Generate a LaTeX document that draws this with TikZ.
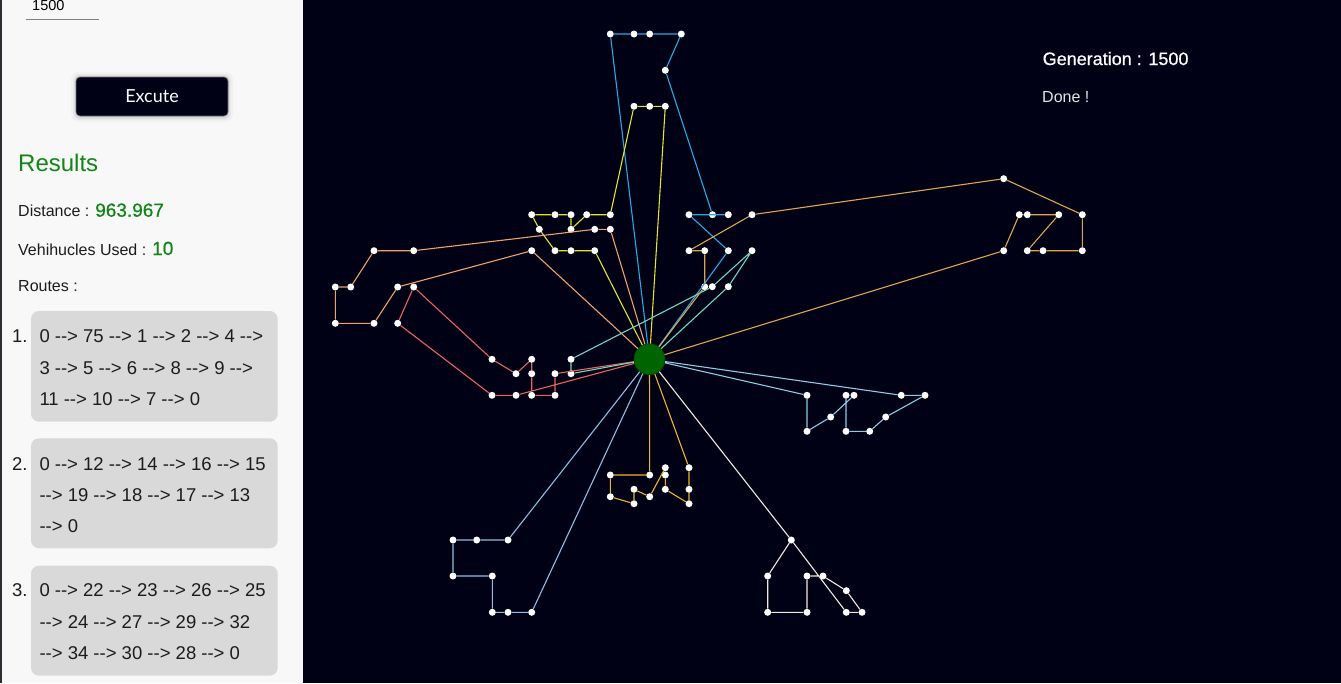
\documentclass[tikz,border=0pt]{standalone}
\usepackage{fontspec}
\setmainfont{Liberation Sans}[Ligatures=TeXOff]
\newfontfamily\latofont{Lato}
\newfontfamily\medfont{Liberation Sans}[Ligatures=TeXOff, FakeBold=0.6]
\definecolor{canvasbg}{RGB}{1,1,22}
\definecolor{panelbg}{RGB}{248,248,248}
\definecolor{edgegrey}{RGB}{45,45,52}
\definecolor{boxgrey}{RGB}{217,217,217}
\definecolor{resgreen}{RGB}{18,132,24}
\definecolor{txtdark}{RGB}{28,28,28}
\definecolor{depotgreen}{RGB}{0,100,0}
\definecolor{colA}{RGB}{40,170,228}
\definecolor{colB}{RGB}{228,228,40}
\definecolor{colC}{RGB}{238,160,112}
\definecolor{colD}{RGB}{236,98,98}
\definecolor{colE}{RGB}{110,218,188}
\definecolor{colF}{RGB}{222,164,82}
\definecolor{colG}{RGB}{140,204,230}
\definecolor{colH}{RGB}{140,192,226}
\definecolor{colI}{RGB}{240,180,40}
\definecolor{colJ}{RGB}{245,232,222}
\newcommand{\routefont}{\fontsize{18.5}{22}\selectfont}
\newcommand{\labelfont}{\fontsize{16}{19}\selectfont}
\newcommand{\valuefont}{\medfont\fontsize{19}{22}\selectfont}

\begin{document}
\begin{tikzpicture}[x=1pt, y=-1pt,
    cust/.style={circle, fill=white, inner sep=0pt, minimum size=7pt},
    depot/.style={circle, fill=depotgreen, draw={rgb,255:red,0;green,70;blue,0}, line width=0.6pt, inner sep=0pt, minimum size=31pt},
    route/.style={line width=1.1pt, line join=round},
    txt/.style={anchor=base west, inner sep=0pt, text=txtdark},
    routebox/.style={fill=boxgrey, rounded corners=8pt}]
  \useasboundingbox (0,0) rectangle (1341,683);
  \fill[panelbg] (0,0) rectangle (303,683);
  \fill[edgegrey] (0,0) rectangle (2,683);
  \fill[canvasbg] (303,0) rectangle (1341,683);

  \node[txt, text=black, font=\fontsize{14.5}{16}\selectfont] (inp) at (32,10) {1500};
  \draw[line width=1pt, gray] (26,19.5) -- (99,19.5);

  \fill[black!5, rounded corners=7pt] (71,72) rectangle (233,122);
  \fill[black!9, rounded corners=6pt] (73,74) rectangle (231,120);
  \fill[black!15, rounded corners=5pt] (74.5,75.5) rectangle (229.5,118.5);
  \node[draw={rgb,255:red,110;green,110;blue,120}, fill=canvasbg, rounded corners=4pt, minimum width=152pt, minimum height=39pt, line width=0.6pt,
        text=white, font=\latofont\fontsize{18}{20}\selectfont] (btn) at (152,96.5) {Excute};

  \node[txt, text=resgreen, font=\fontsize{24}{28}\selectfont] (res) at (18,171.7) {Results};
  \node[txt, font=\labelfont] (dist) at (18,216.7) {Distance : {\color{resgreen}\valuefont 963.967}};
  \node[txt, font=\labelfont] (veh) at (18,255) {Vehihucles Used : {\color{resgreen}\valuefont 10}};
  \node[txt, font=\labelfont] (rts) at (18,291.7) {Routes :};

  \fill[routebox] (31,311) rectangle (277.7,421.7);
  \fill[routebox] (31,438.3) rectangle (277.7,548.3);
  \fill[routebox] (31,565.7) rectangle (277.7,675.7);
  \node[txt, font=\routefont] (n1) at (12,342.7) {1.};
  \node[txt, font=\routefont] (r11) at (39.3,342.7) {0 --> 75 --> 1 --> 2 --> 4 -->};
  \node[txt, font=\routefont] (r12) at (39.3,374) {3 --> 5 --> 6 --> 8 --> 9 -->};
  \node[txt, font=\routefont] (r13) at (39.3,405.3) {11 --> 10 --> 7 --> 0};
  \node[txt, font=\routefont] (n2) at (12,470) {2.};
  \node[txt, font=\routefont] (r21) at (39.3,470) {0 --> 12 --> 14 --> 16 --> 15};
  \node[txt, font=\routefont] (r22) at (39.3,501.3) {--> 19 --> 18 --> 17 --> 13};
  \node[txt, font=\routefont] (r23) at (39.3,532.7) {--> 0};
  \node[txt, font=\routefont] (n3) at (12,596.7) {3.};
  \node[txt, font=\routefont] (r31) at (39.3,596.7) {0 --> 22 --> 23 --> 26 --> 25};
  \node[txt, font=\routefont] (r32) at (39.3,628) {--> 24 --> 27 --> 29 --> 32};
  \node[txt, font=\routefont] (r33) at (39.3,659.3) {--> 34 --> 30 --> 28 --> 0};

  \node[txt, text=white, font=\medfont\fontsize{18}{20}\selectfont] (gen) at (1042.5,65) {Generation : 1500};
  \node[txt, text={rgb,255:red,228;green,228;blue,228}, font=\fontsize{16}{19}\selectfont] (done) at (1042,102.7) {Done !};

  \node[depot] (dep) at (649.5,359.3) {};

  \node[cust] (a1) at (610.3,34) {};
  \node[cust] (a2) at (634,34) {};
  \node[cust] (a3) at (649.7,34) {};
  \node[cust] (a4) at (681.3,34) {};
  \node[cust] (a5) at (665.3,70.3) {};
  \node[cust] (a6) at (712.5,214.7) {};
  \node[cust] (a7) at (728.3,214.7) {};
  \node[cust] (a8) at (689,214.7) {};
  \node[cust] (a9) at (728.3,250.7) {};

  \node[cust] (b1) at (665.3,106.3) {};
  \node[cust] (b2) at (649.7,106.3) {};
  \node[cust] (b3) at (634,106.3) {};
  \node[cust] (b4) at (610.3,214.7) {};
  \node[cust] (b5) at (586.7,214.7) {};
  \node[cust] (b6) at (571,229.3) {};
  \node[cust] (b7) at (571,214.7) {};
  \node[cust] (b8) at (555,214.7) {};
  \node[cust] (b9) at (531.7,214.7) {};
  \node[cust] (b10) at (539.3,229.3) {};
  \node[cust] (b11) at (555,250.7) {};
  \node[cust] (b12) at (571,250.7) {};
  \node[cust] (b13) at (594.7,250.7) {};

  \node[cust] (c1) at (610.3,229.3) {};
  \node[cust] (c2) at (594.7,229.3) {};
  \node[cust] (c3) at (413.7,250.7) {};
  \node[cust] (c4) at (374,250.7) {};
  \node[cust] (c5) at (350.7,287) {};
  \node[cust] (c6) at (335.3,287) {};
  \node[cust] (c7) at (335.3,323.3) {};
  \node[cust] (c8) at (374,323.3) {};
  \node[cust] (c9) at (397.7,287) {};
  \node[cust] (c10) at (531.7,250.7) {};

  \node[cust] (d1) at (555,373.7) {};
  \node[cust] (d2) at (555,395.3) {};
  \node[cust] (d3) at (531.7,395.3) {};
  \node[cust] (d4) at (531.7,373.7) {};
  \node[cust] (d5) at (531.7,359.3) {};
  \node[cust] (d6) at (516,373.7) {};
  \node[cust] (d7) at (492,359.3) {};
  \node[cust] (d8) at (413.7,287) {};
  \node[cust] (d9) at (397.7,323.3) {};
  \node[cust] (d10) at (492,395.3) {};
  \node[cust] (d11) at (516,395.3) {};

  \node[cust] (e1) at (571,373.7) {};
  \node[cust] (e2) at (571,359.3) {};
  \node[cust] (e3) at (712.3,286.7) {};
  \node[cust] (e4) at (752,250.7) {};
  \node[cust] (e5) at (728.3,286.7) {};

  \node[cust] (f1) at (704.7,286.7) {};
  \node[cust] (f2) at (704.7,250.7) {};
  \node[cust] (f3) at (689,250.7) {};
  \node[cust] (f4) at (752,214.7) {};
  \node[cust] (f5) at (1003.7,178.7) {};
  \node[cust] (f6) at (1082.3,214.7) {};
  \node[cust] (f7) at (1082.3,250.7) {};
  \node[cust] (f8) at (1043,250.7) {};
  \node[cust] (f9) at (1027.3,250.7) {};
  \node[cust] (f10) at (1058.7,214.7) {};
  \node[cust] (f11) at (1027.3,214.7) {};
  \node[cust] (f12) at (1019.3,214.7) {};
  \node[cust] (f13) at (1003.7,250.7) {};

  \node[cust] (g1) at (807,395.3) {};
  \node[cust] (g2) at (807,431.3) {};
  \node[cust] (g3) at (830.7,417) {};
  \node[cust] (g4) at (854,395.3) {};
  \node[cust] (g5) at (846,395.3) {};
  \node[cust] (g6) at (846,431.3) {};
  \node[cust] (g7) at (869.7,431.3) {};
  \node[cust] (g8) at (885.7,417) {};
  \node[cust] (g9) at (925,395.3) {};
  \node[cust] (g10) at (901.3,395.3) {};

  \node[cust] (h1) at (508,540) {};
  \node[cust] (h2) at (476.7,540) {};
  \node[cust] (h3) at (453,540) {};
  \node[cust] (h4) at (453,576) {};
  \node[cust] (h5) at (492.3,576) {};
  \node[cust] (h6) at (492.3,612.3) {};
  \node[cust] (h7) at (508,612.3) {};
  \node[cust] (h8) at (531.7,612.3) {};

  \node[cust] (i1) at (649.7,475) {};
  \node[cust] (i2) at (610.3,475) {};
  \node[cust] (i3) at (610.3,496.7) {};
  \node[cust] (i4) at (634,503.7) {};
  \node[cust] (i5) at (634,489.3) {};
  \node[cust] (i6) at (649.7,496.7) {};
  \node[cust] (i7) at (665.3,467.7) {};
  \node[cust] (i8) at (665.3,475) {};
  \node[cust] (i9) at (665.3,489.3) {};
  \node[cust] (i10) at (689,503.7) {};
  \node[cust] (i11) at (689,489.3) {};
  \node[cust] (i12) at (689,467.7) {};

  \node[cust] (j1) at (791.3,540) {};
  \node[cust] (j2) at (767.7,576) {};
  \node[cust] (j3) at (767.7,612.3) {};
  \node[cust] (j4) at (807,612.3) {};
  \node[cust] (j5) at (807,576) {};
  \node[cust] (j6) at (823,576) {};
  \node[cust] (j7) at (846.3,590.7) {};
  \node[cust] (j8) at (862,612.3) {};
  \node[cust] (j9) at (846.3,612.3) {};

  \draw[route, colA] (dep) -- (a1) -- (a2) -- (a3) -- (a4) -- (a5) -- (a6) -- (a7) -- (a8) -- (a9) -- (dep);
  \draw[route, colB] (dep) -- (b1) -- (b2) -- (b3) -- (b4) -- (b5) -- (b6) -- (b7) -- (b8) -- (b9) -- (b10) -- (b11) -- (b12) -- (b13) -- (dep);
  \draw[route, colC] (dep) -- (c1) -- (c2) -- (c3) -- (c4) -- (c5) -- (c6) -- (c7) -- (c8) -- (c9) -- (c10) -- (dep);
  \draw[route, colD] (dep) -- (d1) -- (d2) -- (d3) -- (d4) -- (d5) -- (d6) -- (d7) -- (d8) -- (d9) -- (d10) -- (d11) -- (dep);
  \draw[route, colE] (dep) -- (e1) -- (e2) -- (e3) -- (e4) -- (e5) -- (dep);
  \draw[route, colF] (dep) -- (f1) -- (f2) -- (f3) -- (f4) -- (f5) -- (f6) -- (f7) -- (f8) -- (f9) -- (f10) -- (f11) -- (f12) -- (f13) -- (dep);
  \draw[route, colG] (dep) -- (g1) -- (g2) -- (g3) -- (g4) -- (g5) -- (g6) -- (g7) -- (g8) -- (g9) -- (g10) -- (dep);
  \draw[route, colH] (dep) -- (h1) -- (h2) -- (h3) -- (h4) -- (h5) -- (h6) -- (h7) -- (h8) -- (dep);
  \draw[route, colI] (dep) -- (i1) -- (i2) -- (i3) -- (i4) -- (i5) -- (i6) -- (i7) -- (i8) -- (i9) -- (i10) -- (i11) -- (i12) -- (dep);
  \draw[route, colJ] (dep) -- (j1) -- (j2) -- (j3) -- (j4) -- (j5) -- (j6) -- (j7) -- (j8) -- (j9) -- (j1) -- (dep);
\end{tikzpicture}
\end{document}
